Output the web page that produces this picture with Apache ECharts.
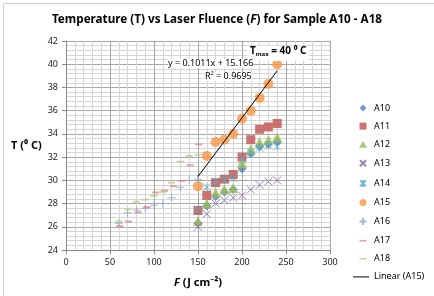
<!DOCTYPE html>
<html>
<head>
<meta charset="utf-8">
<script src="https://cdn.jsdelivr.net/npm/echarts@6/dist/echarts.min.js"></script>
<style>
  html, body { margin: 0; padding: 0; background: #fff; }
  #main { width: 434px; height: 296px; }
</style>
</head>
<body>
<div id="main"></div>
<script>
// fluence values (J cm-2)
var fHigh = [150, 160, 170, 180, 190, 200, 210, 220, 230, 240];
var fLow = [60, 70, 80, 90, 100, 110, 120, 130, 140, 150];
var fLow17 = [61, 71, 82, 92, 102, 112, 122, 132, 141, 151];

// temperatures (deg C)
var a10 = [26.3, 27.8, 28.6, 29.0, 29.2, 31.0, 32.3, 32.9, 33.1, 33.3];
var a11 = [27.4, 28.7, 29.8, 30.1, 30.5, 32.0, 33.5, 34.4, 34.6, 34.9];
var a12 = [26.5, 28.0, 28.95, 29.2, 29.35, 31.5, 32.7, 33.3, 33.5, 33.7];
var a13 = [26.0, 27.1, 28.0, 28.3, 28.5, 28.7, 29.2, 29.6, 29.9, 30.0];
var a14 = [27.5, 29.4, 29.9, 30.1, 30.2, 31.8, 32.4, 32.8, 33.0, 32.9];
var a15 = [29.5, 32.1, 33.3, 33.5, 34.0, 35.3, 36.0, 37.1, 38.3, 40.0];
var a16 = [26.3, 27.2, 27.45, 27.6, 27.85, 28.0, 28.5, 29.4, 30.0, 30.1];
var a17 = [26.05, 26.45, 27.25, 27.7, 28.95, 29.1, 29.5, 29.95, 31.3, 33.1];
var a18 = [26.45, 27.5, 28.15, 28.35, 28.65, 29.0, 29.8, 31.6, 32.1, 32.2];

// linear fit for A15, end points
var trendX = [150, 240];
var trendY = [30.33, 39.43];

function pairs(xs, ys) {
  var out = [];
  for (var i = 0; i < xs.length; i++) {
    out.push([xs[i], ys[i]]);
  }
  return out;
}

var X_PATH = 'path://M0,0L10,10M10,0L0,10';
var STAR_PATH = 'path://M0,0L10,10M10,0L0,10M5,0L5,10';
var PLUS_PATH = 'path://M5,0L5,10M0,5L10,5';

// legend icons drawn inside a 16x10 frame so they all keep the same scale
var FRAME = 'path://M0,0M16,10';
var legendIcons = {
  A10: FRAME + 'M10,1.5L13.5,5L10,8.5L6.5,5Z',
  A11: FRAME + 'M6.5,1.5H13.5V8.5H6.5Z',
  A12: FRAME + 'M10,1.5L14,8.5H6Z',
  A13: FRAME + 'M7,2L13,8M13,2L7,8',
  A14: FRAME + 'M7,2L13,8M13,2L7,8M10,1.5L10,8.5',
  A15: FRAME + 'M6.5,5A3.5,3.5,0,1,1,13.5,5A3.5,3.5,0,1,1,6.5,5Z',
  A16: FRAME + 'M10,1.5V8.5M6.5,5H13.5',
  A17: FRAME + 'M6.5,4.2H13.5V5.8H6.5Z',
  A18: FRAME + 'M6.5,4.2H13.5V5.8H6.5Z',
  'Linear (A15)': FRAME + 'M0,4.5H16V5.5H0Z'
};

var chart = echarts.init(document.getElementById('main'), null, { renderer: 'canvas' });

function scatter(name, data, symbol, size, color, stroked) {
  var s = {
    name: name,
    type: 'scatter',
    data: data,
    symbol: symbol,
    symbolSize: size,
    itemStyle: { color: color }
  };
  if (stroked) {
    s.itemStyle = { color: 'rgba(0,0,0,0)', borderColor: color, borderWidth: 1 };
  }
  return s;
}

var legendNames = ['A10', 'A11', 'A12', 'A13', 'A14', 'A15', 'A16', 'A17', 'A18', 'Linear (A15)'];

var option = {
  backgroundColor: '#fff',
  animation: false,
  textStyle: { fontFamily: 'Noto Sans' },
  title: {
    text: 'Temperature (T) vs Laser Fluence ({i|F}) for Sample A10 - A18',
    left: 'center',
    top: 9,
    textStyle: {
      fontSize: 11.7,
      fontWeight: 'bold',
      color: '#000',
      rich: {
        i: { fontSize: 11.7, fontWeight: 'bold', fontStyle: 'italic', color: '#000' }
      }
    }
  },
  grid: { left: 66, right: 104, top: 41, bottom: 46 },
  xAxis: {
    type: 'value',
    min: 0,
    max: 300,
    interval: 50,
    name: '{i|F} (J cm⁻²)',
    nameLocation: 'middle',
    nameGap: 27,
    nameTextStyle: {
      fontSize: 11, fontWeight: 'bold', color: '#000',
      rich: { i: { fontSize: 11, fontWeight: 'bold', fontStyle: 'italic', color: '#000' } }
    },
    axisLine: { show: true, lineStyle: { color: '#888' } },
    axisTick: { show: true, length: 4, lineStyle: { color: '#888' } },
    axisLabel: { fontSize: 9, color: '#222', margin: 8 },
    splitLine: { show: true, lineStyle: { color: '#a6a6a6', width: 1 } },
    minorTick: { show: true, splitNumber: 5, length: 0 },
    minorSplitLine: { show: true, lineStyle: { color: '#d6d6d6', width: 1 } }
  },
  yAxis: {
    type: 'value',
    min: 24,
    max: 42,
    interval: 2,
    name: 'T (⁰ C)',
    nameLocation: 'middle',
    nameRotate: 0,
    nameGap: 24,
    nameTextStyle: { fontSize: 11, fontWeight: 'bold', color: '#000' },
    axisLine: { show: true, lineStyle: { color: '#888' } },
    axisTick: { show: true, length: 4, lineStyle: { color: '#888' } },
    axisLabel: { fontSize: 9, color: '#222', margin: 8 },
    splitLine: { show: true, lineStyle: { color: '#a6a6a6', width: 1 } },
    minorTick: { show: true, splitNumber: 5, length: 0 },
    minorSplitLine: { show: true, lineStyle: { color: '#d6d6d6', width: 1 } }
  },
  legend: {
    orient: 'vertical',
    left: 352,
    top: 103,
    padding: 0,
    itemWidth: 16,
    itemHeight: 10,
    itemGap: 8.1,
    textStyle: { fontSize: 9, color: '#000', lineHeight: 10 },
    data: legendNames.map(function (n) {
      return { name: n, icon: legendIcons[n] };
    })
  },
  graphic: [
    {
      type: 'rect',
      left: 1, top: 1, z: 0,
      shape: { width: 431, height: 293 },
      style: { fill: 'none', stroke: '#d0d0d0', lineWidth: 1 }
    },
    {
      type: 'rect',
      left: 247, top: 46, z: 100,
      shape: { width: 62, height: 15 },
      style: { fill: '#fff' }
    },
    {
      type: 'text',
      left: 250, top: 46, z: 101,
      style: {
        text: 'T{s|max} = 40 ⁰ C',
        font: 'bold 10px "Noto Sans"',
        fill: '#000',
        rich: { s: { font: 'bold 6px "Noto Sans"', padding: [7, 0, 0, 0] } }
      }
    },
    {
      type: 'text',
      left: 168, top: 59, z: 100,
      style: { text: 'y = 0.1011x + 15.166', font: '9px "Noto Sans"', fill: '#000', backgroundColor: '#fff' }
    },
    {
      type: 'text',
      left: 205, top: 72, z: 100,
      style: { text: 'R² = 0.9695', font: '9px "Noto Sans"', fill: '#000', backgroundColor: '#fff' }
    }
  ],
  series: [
    scatter('A10', pairs(fHigh, a10), 'diamond', 9, '#4f81bd'),
    scatter('A11', pairs(fHigh, a11), 'rect', 9, '#c0504d'),
    scatter('A12', pairs(fHigh, a12), 'triangle', 10, '#9bbb59'),
    scatter('A13', pairs(fHigh, a13), X_PATH, 8, '#8064a2', true),
    scatter('A14', pairs(fHigh, a14), STAR_PATH, 8, '#4bacc6', true),
    scatter('A15', pairs(fHigh, a15), 'circle', 10, '#f79646'),
    scatter('A16', pairs(fLow, a16), PLUS_PATH, 8, '#8ea2d4', true),
    scatter('A17', pairs(fLow17, a17), 'rect', [7, 2], '#d98c8c'),
    scatter('A18', pairs(fLow, a18), 'rect', [7, 2], '#b7cf8c'),
    {
      name: 'Linear (A15)',
      type: 'line',
      data: pairs(trendX, trendY),
      symbol: 'none',
      z: 3,
      lineStyle: { color: '#000', width: 1 },
      itemStyle: { color: '#000' }
    }
  ]
};

chart.setOption(option);
</script>
</body>
</html>
